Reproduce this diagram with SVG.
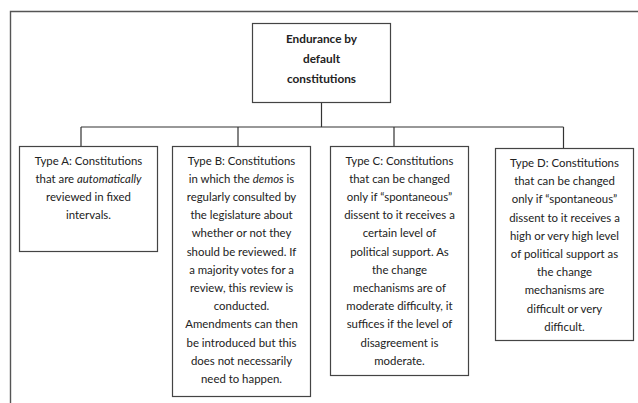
<svg xmlns="http://www.w3.org/2000/svg" width="638" height="403" viewBox="0 0 638 403">
<style>
.box{fill:#fff;stroke:#444;stroke-width:1.2}
.ln{fill:none;stroke:#333;stroke-width:1.2}
text{font-family:Lato,"Liberation Sans",sans-serif;font-size:11.4px;fill:#222;text-anchor:middle}
.t{font-weight:bold;font-size:11.8px}
</style>
<rect width="638" height="403" fill="#fff"/>
<path d="M10.5,403 V11.5 H638" fill="none" stroke="#555" stroke-width="1.4"/>
<g id="connectors">
<path class="ln" d="M321.5,102 V127 M81,127 H563.5 M81,127 V146 M238,127 V146 M394,127 V146 M563.5,127 V148"/>
</g>
<g id="root">
<rect class="box" x="252.5" y="23.5" width="138" height="79"/>
<text class="t" x="321.5" y="42.5">Endurance by</text>
<text class="t" x="321.5" y="62.5">default</text>
<text class="t" x="321.5" y="82.5">constitutions</text>
</g>
<g id="typeA">
<rect class="box" x="19.5" y="146.5" width="138" height="105"/>
<text x="88.5" y="164.5">Type A: Constitutions</text>
<text x="88.5" y="182.7">that are <tspan font-style="italic">automatically</tspan></text>
<text x="88.5" y="200.9">reviewed in fixed</text>
<text x="88.5" y="219.1">intervals.</text>
</g>
<g id="typeB">
<rect class="box" x="172.5" y="146.5" width="138" height="250"/>
<text x="241.5" y="164.5">Type B: Constitutions</text>
<text x="241.5" y="182.7">in which the <tspan font-style="italic">demos</tspan> is</text>
<text x="241.5" y="200.9">regularly consulted by</text>
<text x="241.5" y="219.1">the legislature about</text>
<text x="241.5" y="237.3">whether or not they</text>
<text x="241.5" y="255.5">should be reviewed. If</text>
<text x="241.5" y="273.7">a majority votes for a</text>
<text x="241.5" y="291.9">review, this review is</text>
<text x="241.5" y="310.1">conducted.</text>
<text x="241.5" y="328.3">Amendments can then</text>
<text x="241.5" y="346.5">be introduced but this</text>
<text x="241.5" y="364.7">does not necessarily</text>
<text x="241.5" y="382.9">need to happen.</text>
</g>
<g id="typeC">
<rect class="box" x="330.5" y="146.5" width="138" height="229"/>
<text x="399.5" y="164.5">Type C: Constitutions</text>
<text x="399.5" y="182.7">that can be changed</text>
<text x="399.5" y="200.9">only if “spontaneous”</text>
<text x="399.5" y="219.1">dissent to it receives a</text>
<text x="399.5" y="237.3">certain level of</text>
<text x="399.5" y="255.5">political support. As</text>
<text x="399.5" y="273.7">the change</text>
<text x="399.5" y="291.9">mechanisms are of</text>
<text x="399.5" y="310.1">moderate difficulty, it</text>
<text x="399.5" y="328.3">suffices if the level of</text>
<text x="399.5" y="346.5">disagreement is</text>
<text x="399.5" y="364.7">moderate.</text>
</g>
<g id="typeD">
<rect class="box" x="495.5" y="148.5" width="138" height="192"/>
<text x="564.5" y="167">Type D: Constitutions</text>
<text x="564.5" y="185.2">that can be changed</text>
<text x="564.5" y="203.4">only if “spontaneous”</text>
<text x="564.5" y="221.6">dissent to it receives a</text>
<text x="564.5" y="239.8">high or very high level</text>
<text x="564.5" y="258">of political support as</text>
<text x="564.5" y="276.2">the change</text>
<text x="564.5" y="294.4">mechanisms are</text>
<text x="564.5" y="312.6">difficult or very</text>
<text x="564.5" y="330.8">difficult.</text>
</g>
</svg>
